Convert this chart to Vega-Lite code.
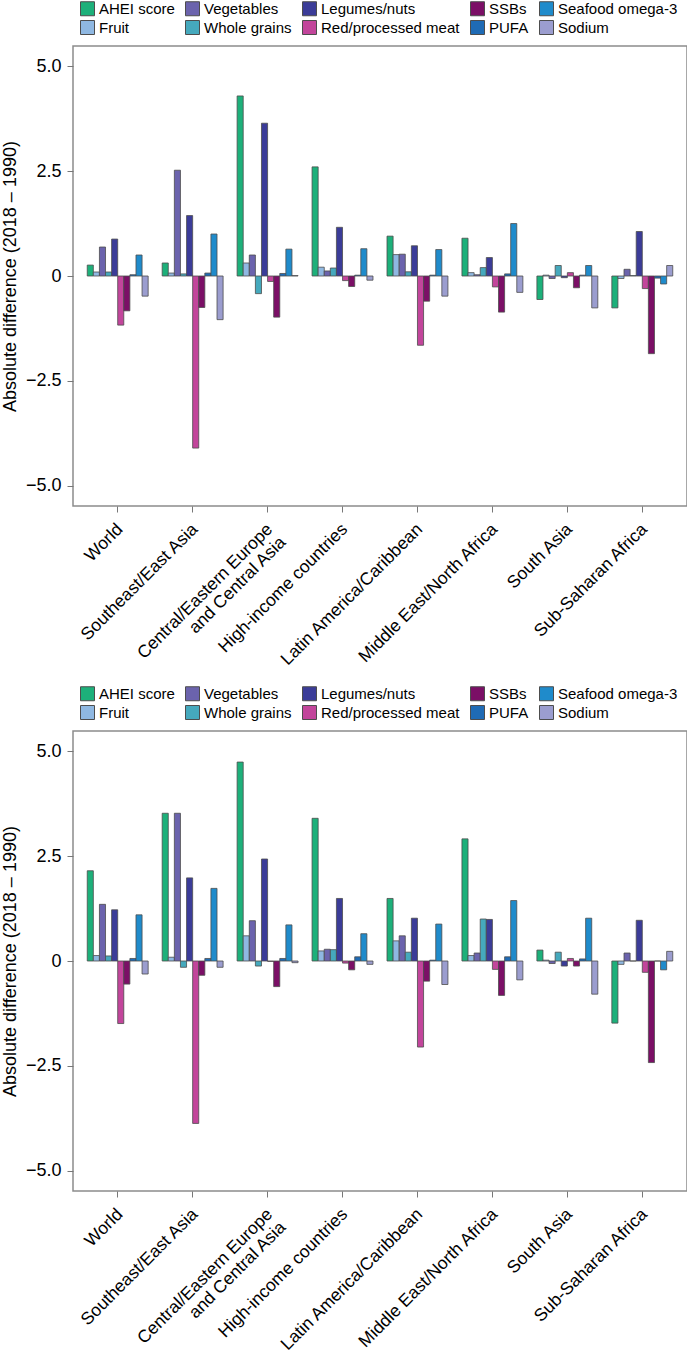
{
  "$schema": "https://vega.github.io/schema/vega-lite/v6.json",
  "padding": {"left": 0, "top": 0, "right": 1, "bottom": 0},
  "background": "white",
  "config": {
    "font": "Liberation Sans",
    "view": {"stroke": "#8c8c8c", "strokeWidth": 1.5},
    "concat": {"spacing": 9},
    "axis": {"labelColor": "black", "titleColor": "black", "tickColor": "#777777", "domain": false, "grid": false, "labelLimit": 400}
  },
  "datasets": {
    "p1": [
      {"region": "World", "component": "AHEI score", "value": 0.26},
      {"region": "World", "component": "Fruit", "value": 0.095},
      {"region": "World", "component": "Vegetables", "value": 0.69},
      {"region": "World", "component": "Whole grains", "value": 0.095},
      {"region": "World", "component": "Legumes/nuts", "value": 0.88},
      {"region": "World", "component": "Red/processed meat", "value": -1.17},
      {"region": "World", "component": "SSBs", "value": -0.83},
      {"region": "World", "component": "PUFA", "value": 0.03},
      {"region": "World", "component": "Seafood omega-3", "value": 0.5},
      {"region": "World", "component": "Sodium", "value": -0.48},
      {"region": "Southeast/East Asia", "component": "AHEI score", "value": 0.31},
      {"region": "Southeast/East Asia", "component": "Fruit", "value": 0.07},
      {"region": "Southeast/East Asia", "component": "Vegetables", "value": 2.52},
      {"region": "Southeast/East Asia", "component": "Whole grains", "value": 0.05},
      {"region": "Southeast/East Asia", "component": "Legumes/nuts", "value": 1.44},
      {"region": "Southeast/East Asia", "component": "Red/processed meat", "value": -4.1},
      {"region": "Southeast/East Asia", "component": "SSBs", "value": -0.75},
      {"region": "Southeast/East Asia", "component": "PUFA", "value": 0.07},
      {"region": "Southeast/East Asia", "component": "Seafood omega-3", "value": 1.0},
      {"region": "Southeast/East Asia", "component": "Sodium", "value": -1.04},
      {"region": "Central/Eastern Europe and Central Asia", "component": "AHEI score", "value": 4.29},
      {"region": "Central/Eastern Europe and Central Asia", "component": "Fruit", "value": 0.31},
      {"region": "Central/Eastern Europe and Central Asia", "component": "Vegetables", "value": 0.5},
      {"region": "Central/Eastern Europe and Central Asia", "component": "Whole grains", "value": -0.42},
      {"region": "Central/Eastern Europe and Central Asia", "component": "Legumes/nuts", "value": 3.64},
      {"region": "Central/Eastern Europe and Central Asia", "component": "Red/processed meat", "value": -0.13},
      {"region": "Central/Eastern Europe and Central Asia", "component": "SSBs", "value": -0.98},
      {"region": "Central/Eastern Europe and Central Asia", "component": "PUFA", "value": 0.06},
      {"region": "Central/Eastern Europe and Central Asia", "component": "Seafood omega-3", "value": 0.64},
      {"region": "Central/Eastern Europe and Central Asia", "component": "Sodium", "value": 0.01},
      {"region": "High-income countries", "component": "AHEI score", "value": 2.6},
      {"region": "High-income countries", "component": "Fruit", "value": 0.21},
      {"region": "High-income countries", "component": "Vegetables", "value": 0.12},
      {"region": "High-income countries", "component": "Whole grains", "value": 0.19},
      {"region": "High-income countries", "component": "Legumes/nuts", "value": 1.16},
      {"region": "High-income countries", "component": "Red/processed meat", "value": -0.11},
      {"region": "High-income countries", "component": "SSBs", "value": -0.25},
      {"region": "High-income countries", "component": "PUFA", "value": 0.02},
      {"region": "High-income countries", "component": "Seafood omega-3", "value": 0.65},
      {"region": "High-income countries", "component": "Sodium", "value": -0.1},
      {"region": "Latin America/Caribbean", "component": "AHEI score", "value": 0.95},
      {"region": "Latin America/Caribbean", "component": "Fruit", "value": 0.51},
      {"region": "Latin America/Caribbean", "component": "Vegetables", "value": 0.52},
      {"region": "Latin America/Caribbean", "component": "Whole grains", "value": 0.1},
      {"region": "Latin America/Caribbean", "component": "Legumes/nuts", "value": 0.72},
      {"region": "Latin America/Caribbean", "component": "Red/processed meat", "value": -1.65},
      {"region": "Latin America/Caribbean", "component": "SSBs", "value": -0.6},
      {"region": "Latin America/Caribbean", "component": "PUFA", "value": 0.02},
      {"region": "Latin America/Caribbean", "component": "Seafood omega-3", "value": 0.63},
      {"region": "Latin America/Caribbean", "component": "Sodium", "value": -0.48},
      {"region": "Middle East/North Africa", "component": "AHEI score", "value": 0.9},
      {"region": "Middle East/North Africa", "component": "Fruit", "value": 0.08},
      {"region": "Middle East/North Africa", "component": "Vegetables", "value": 0.03},
      {"region": "Middle East/North Africa", "component": "Whole grains", "value": 0.2},
      {"region": "Middle East/North Africa", "component": "Legumes/nuts", "value": 0.44},
      {"region": "Middle East/North Africa", "component": "Red/processed meat", "value": -0.26},
      {"region": "Middle East/North Africa", "component": "SSBs", "value": -0.86},
      {"region": "Middle East/North Africa", "component": "PUFA", "value": 0.05},
      {"region": "Middle East/North Africa", "component": "Seafood omega-3", "value": 1.25},
      {"region": "Middle East/North Africa", "component": "Sodium", "value": -0.39},
      {"region": "South Asia", "component": "AHEI score", "value": -0.56},
      {"region": "South Asia", "component": "Fruit", "value": 0.02},
      {"region": "South Asia", "component": "Vegetables", "value": -0.06},
      {"region": "South Asia", "component": "Whole grains", "value": 0.25},
      {"region": "South Asia", "component": "Legumes/nuts", "value": -0.04},
      {"region": "South Asia", "component": "Red/processed meat", "value": 0.08},
      {"region": "South Asia", "component": "SSBs", "value": -0.28},
      {"region": "South Asia", "component": "PUFA", "value": 0.02},
      {"region": "South Asia", "component": "Seafood omega-3", "value": 0.25},
      {"region": "South Asia", "component": "Sodium", "value": -0.76},
      {"region": "Sub-Saharan Africa", "component": "AHEI score", "value": -0.76},
      {"region": "Sub-Saharan Africa", "component": "Fruit", "value": -0.06},
      {"region": "Sub-Saharan Africa", "component": "Vegetables", "value": 0.16},
      {"region": "Sub-Saharan Africa", "component": "Whole grains", "value": 0.01},
      {"region": "Sub-Saharan Africa", "component": "Legumes/nuts", "value": 1.06},
      {"region": "Sub-Saharan Africa", "component": "Red/processed meat", "value": -0.3},
      {"region": "Sub-Saharan Africa", "component": "SSBs", "value": -1.85},
      {"region": "Sub-Saharan Africa", "component": "PUFA", "value": -0.05},
      {"region": "Sub-Saharan Africa", "component": "Seafood omega-3", "value": -0.19},
      {"region": "Sub-Saharan Africa", "component": "Sodium", "value": 0.25}
    ],
    "p2": [
      {"region": "World", "component": "AHEI score", "value": 2.15},
      {"region": "World", "component": "Fruit", "value": 0.13},
      {"region": "World", "component": "Vegetables", "value": 1.35},
      {"region": "World", "component": "Whole grains", "value": 0.12},
      {"region": "World", "component": "Legumes/nuts", "value": 1.22},
      {"region": "World", "component": "Red/processed meat", "value": -1.49},
      {"region": "World", "component": "SSBs", "value": -0.55},
      {"region": "World", "component": "PUFA", "value": 0.06},
      {"region": "World", "component": "Seafood omega-3", "value": 1.1},
      {"region": "World", "component": "Sodium", "value": -0.31},
      {"region": "Southeast/East Asia", "component": "AHEI score", "value": 3.52},
      {"region": "Southeast/East Asia", "component": "Fruit", "value": 0.09},
      {"region": "Southeast/East Asia", "component": "Vegetables", "value": 3.52},
      {"region": "Southeast/East Asia", "component": "Whole grains", "value": -0.15},
      {"region": "Southeast/East Asia", "component": "Legumes/nuts", "value": 1.98},
      {"region": "Southeast/East Asia", "component": "Red/processed meat", "value": -3.87},
      {"region": "Southeast/East Asia", "component": "SSBs", "value": -0.34},
      {"region": "Southeast/East Asia", "component": "PUFA", "value": 0.06},
      {"region": "Southeast/East Asia", "component": "Seafood omega-3", "value": 1.73},
      {"region": "Southeast/East Asia", "component": "Sodium", "value": -0.15},
      {"region": "Central/Eastern Europe and Central Asia", "component": "AHEI score", "value": 4.74},
      {"region": "Central/Eastern Europe and Central Asia", "component": "Fruit", "value": 0.6},
      {"region": "Central/Eastern Europe and Central Asia", "component": "Vegetables", "value": 0.96},
      {"region": "Central/Eastern Europe and Central Asia", "component": "Whole grains", "value": -0.12},
      {"region": "Central/Eastern Europe and Central Asia", "component": "Legumes/nuts", "value": 2.43},
      {"region": "Central/Eastern Europe and Central Asia", "component": "Red/processed meat", "value": -0.01},
      {"region": "Central/Eastern Europe and Central Asia", "component": "SSBs", "value": -0.61},
      {"region": "Central/Eastern Europe and Central Asia", "component": "PUFA", "value": 0.06},
      {"region": "Central/Eastern Europe and Central Asia", "component": "Seafood omega-3", "value": 0.86},
      {"region": "Central/Eastern Europe and Central Asia", "component": "Sodium", "value": -0.04},
      {"region": "High-income countries", "component": "AHEI score", "value": 3.4},
      {"region": "High-income countries", "component": "Fruit", "value": 0.24},
      {"region": "High-income countries", "component": "Vegetables", "value": 0.28},
      {"region": "High-income countries", "component": "Whole grains", "value": 0.27},
      {"region": "High-income countries", "component": "Legumes/nuts", "value": 1.49},
      {"region": "High-income countries", "component": "Red/processed meat", "value": -0.05},
      {"region": "High-income countries", "component": "SSBs", "value": -0.21},
      {"region": "High-income countries", "component": "PUFA", "value": 0.1},
      {"region": "High-income countries", "component": "Seafood omega-3", "value": 0.65},
      {"region": "High-income countries", "component": "Sodium", "value": -0.08},
      {"region": "Latin America/Caribbean", "component": "AHEI score", "value": 1.49},
      {"region": "Latin America/Caribbean", "component": "Fruit", "value": 0.48},
      {"region": "Latin America/Caribbean", "component": "Vegetables", "value": 0.6},
      {"region": "Latin America/Caribbean", "component": "Whole grains", "value": 0.21},
      {"region": "Latin America/Caribbean", "component": "Legumes/nuts", "value": 1.02},
      {"region": "Latin America/Caribbean", "component": "Red/processed meat", "value": -2.05},
      {"region": "Latin America/Caribbean", "component": "SSBs", "value": -0.48},
      {"region": "Latin America/Caribbean", "component": "PUFA", "value": 0.02},
      {"region": "Latin America/Caribbean", "component": "Seafood omega-3", "value": 0.88},
      {"region": "Latin America/Caribbean", "component": "Sodium", "value": -0.56},
      {"region": "Middle East/North Africa", "component": "AHEI score", "value": 2.91},
      {"region": "Middle East/North Africa", "component": "Fruit", "value": 0.13},
      {"region": "Middle East/North Africa", "component": "Vegetables", "value": 0.19},
      {"region": "Middle East/North Africa", "component": "Whole grains", "value": 1.0},
      {"region": "Middle East/North Africa", "component": "Legumes/nuts", "value": 0.99},
      {"region": "Middle East/North Africa", "component": "Red/processed meat", "value": -0.2},
      {"region": "Middle East/North Africa", "component": "SSBs", "value": -0.82},
      {"region": "Middle East/North Africa", "component": "PUFA", "value": 0.1},
      {"region": "Middle East/North Africa", "component": "Seafood omega-3", "value": 1.44},
      {"region": "Middle East/North Africa", "component": "Sodium", "value": -0.45},
      {"region": "South Asia", "component": "AHEI score", "value": 0.26},
      {"region": "South Asia", "component": "Fruit", "value": 0.02},
      {"region": "South Asia", "component": "Vegetables", "value": -0.06},
      {"region": "South Asia", "component": "Whole grains", "value": 0.21},
      {"region": "South Asia", "component": "Legumes/nuts", "value": -0.12},
      {"region": "South Asia", "component": "Red/processed meat", "value": 0.06},
      {"region": "South Asia", "component": "SSBs", "value": -0.12},
      {"region": "South Asia", "component": "PUFA", "value": 0.05},
      {"region": "South Asia", "component": "Seafood omega-3", "value": 1.02},
      {"region": "South Asia", "component": "Sodium", "value": -0.79},
      {"region": "Sub-Saharan Africa", "component": "AHEI score", "value": -1.48},
      {"region": "Sub-Saharan Africa", "component": "Fruit", "value": -0.08},
      {"region": "Sub-Saharan Africa", "component": "Vegetables", "value": 0.19},
      {"region": "Sub-Saharan Africa", "component": "Whole grains", "value": 0.0},
      {"region": "Sub-Saharan Africa", "component": "Legumes/nuts", "value": 0.97},
      {"region": "Sub-Saharan Africa", "component": "Red/processed meat", "value": -0.27},
      {"region": "Sub-Saharan Africa", "component": "SSBs", "value": -2.42},
      {"region": "Sub-Saharan Africa", "component": "PUFA", "value": 0.0},
      {"region": "Sub-Saharan Africa", "component": "Seafood omega-3", "value": -0.21},
      {"region": "Sub-Saharan Africa", "component": "Sodium", "value": 0.23}
    ]
  },
  "resolve": {"legend": {"color": "independent"}},
  "vconcat": [
    {
      "width": 614,
      "height": 460,
      "data": {"name": "p1"},
      "mark": {"type": "bar", "stroke": "#4d4d4d", "strokeWidth": 0.8},
      "encoding": {
        "x": {
          "field": "region", "type": "nominal",
          "sort": ["World", "Southeast/East Asia", "Central/Eastern Europe and Central Asia", "High-income countries", "Latin America/Caribbean", "Middle East/North Africa", "South Asia", "Sub-Saharan Africa"],
          "scale": {"paddingInner": 0.187, "paddingOuter": 0.19},
          "axis": {"title": null, "labelAngle": -45, "labelAlign": "right", "labelBaseline": "top", "labelFontSize": 17.5, "labelPadding": 8, "labelOffset": -4, "tickSize": 6, "labelLineHeight": 18.5,
            "labelExpr": "datum.label == 'Central/Eastern Europe and Central Asia' ? ['Central/Eastern Europe', 'and Central Asia'] : datum.label"}
        },
        "xOffset": {
          "field": "component",
          "sort": ["AHEI score", "Fruit", "Vegetables", "Whole grains", "Legumes/nuts", "Red/processed meat", "SSBs", "PUFA", "Seafood omega-3", "Sodium"],
          "scale": {"paddingInner": 0, "paddingOuter": 0}
        },
        "y": {
          "field": "value", "type": "quantitative",
          "scale": {"domain": [-5.48, 5.48], "nice": false},
          "axis": {"title": "Absolute difference (2018 – 1990)", "values": [-5, -2.5, 0, 2.5, 5], "labelExpr": "datum.value == 0 ? '0' : format(datum.value, '.1f')", "labelFontSize": 18, "tickSize": 6, "labelPadding": 6, "titleFontSize": 18, "titleFontWeight": "normal", "titlePadding": 6}
        },
        "color": {
          "field": "component", "type": "nominal",
          "scale": {
            "domain": ["AHEI score", "Fruit", "Vegetables", "Whole grains", "Legumes/nuts", "Red/processed meat", "SSBs", "PUFA", "Seafood omega-3", "Sodium"],
            "range": ["#1db07a", "#8fb8e2", "#6b63ad", "#45a9bd", "#3b3c98", "#c2459b", "#7b0f66", "#1f6bb5", "#1f8bcb", "#9b9dcf"]
          },
          "legend": {"orient": "none", "legendX": 7, "legendY": -45, "columns": 5, "title": null, "symbolType": "square", "symbolSize": 196, "symbolStrokeColor": "#4d4d4d", "symbolStrokeWidth": 1, "symbolOpacity": 1, "labelFontSize": 15, "labelColor": "black", "columnPadding": 8, "rowPadding": 0, "labelOffset": 4, "padding": 0}
        }
      }
    },
    {
      "width": 614,
      "height": 460,
      "data": {"name": "p2"},
      "mark": {"type": "bar", "stroke": "#4d4d4d", "strokeWidth": 0.8},
      "encoding": {
        "x": {
          "field": "region", "type": "nominal",
          "sort": ["World", "Southeast/East Asia", "Central/Eastern Europe and Central Asia", "High-income countries", "Latin America/Caribbean", "Middle East/North Africa", "South Asia", "Sub-Saharan Africa"],
          "scale": {"paddingInner": 0.187, "paddingOuter": 0.19},
          "axis": {"title": null, "labelAngle": -45, "labelAlign": "right", "labelBaseline": "top", "labelFontSize": 17.5, "labelPadding": 8, "labelOffset": -4, "tickSize": 6, "labelLineHeight": 18.5,
            "labelExpr": "datum.label == 'Central/Eastern Europe and Central Asia' ? ['Central/Eastern Europe', 'and Central Asia'] : datum.label"}
        },
        "xOffset": {
          "field": "component",
          "sort": ["AHEI score", "Fruit", "Vegetables", "Whole grains", "Legumes/nuts", "Red/processed meat", "SSBs", "PUFA", "Seafood omega-3", "Sodium"],
          "scale": {"paddingInner": 0, "paddingOuter": 0}
        },
        "y": {
          "field": "value", "type": "quantitative",
          "scale": {"domain": [-5.48, 5.48], "nice": false},
          "axis": {"title": "Absolute difference (2018 – 1990)", "values": [-5, -2.5, 0, 2.5, 5], "labelExpr": "datum.value == 0 ? '0' : format(datum.value, '.1f')", "labelFontSize": 18, "tickSize": 6, "labelPadding": 6, "titleFontSize": 18, "titleFontWeight": "normal", "titlePadding": 6}
        },
        "color": {
          "field": "component", "type": "nominal",
          "scale": {
            "domain": ["AHEI score", "Fruit", "Vegetables", "Whole grains", "Legumes/nuts", "Red/processed meat", "SSBs", "PUFA", "Seafood omega-3", "Sodium"],
            "range": ["#1db07a", "#8fb8e2", "#6b63ad", "#45a9bd", "#3b3c98", "#c2459b", "#7b0f66", "#1f6bb5", "#1f8bcb", "#9b9dcf"]
          },
          "legend": {"orient": "none", "legendX": 7, "legendY": -45, "columns": 5, "title": null, "symbolType": "square", "symbolSize": 196, "symbolStrokeColor": "#4d4d4d", "symbolStrokeWidth": 1, "symbolOpacity": 1, "labelFontSize": 15, "labelColor": "black", "columnPadding": 8, "rowPadding": 0, "labelOffset": 4, "padding": 0}
        }
      }
    }
  ]
}
